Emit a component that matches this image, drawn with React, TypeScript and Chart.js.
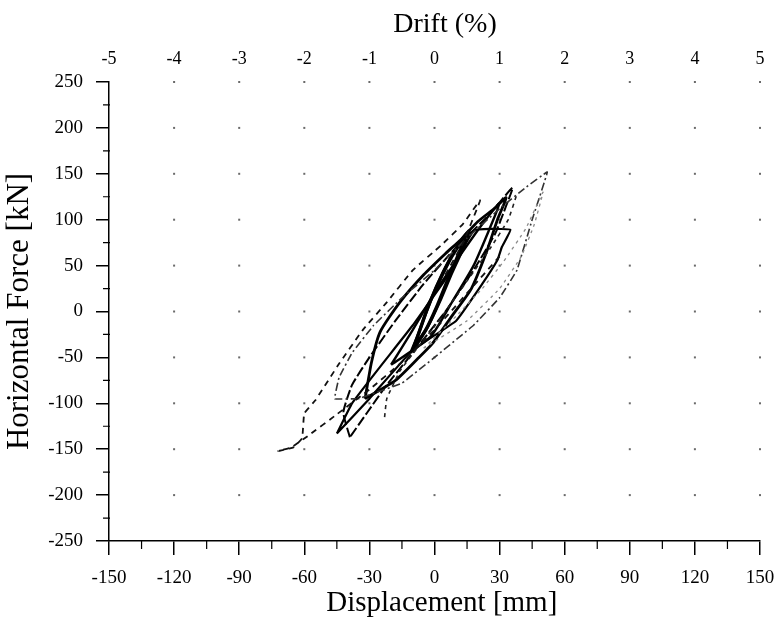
import React, { useEffect, useRef } from "react";
import { Chart, registerables } from "chart.js";

Chart.register(...registerables);

// ---- Data (displacement [mm], horizontal force [kN]) ----
const displacementTicks = [-150, -120, -90, -60, -30, 0, 30, 60, 90, 120, 150];
const forceTicks = [-250, -200, -150, -100, -50, 0, 50, 100, 150, 200, 250];
const driftTicks = [-5, -4, -3, -2, -1, 0, 1, 2, 3, 4, 5];

const cycle1: [number, number][] = [
  [-10, -42], [-7, -22], [-3, 5], [2, 32], [8, 60], [15, 85],
  [11, 62], [6, 34], [1, 5], [-4, -20], [-10, -42],
];
const cycle2: [number, number][] = [
  [-11, -45], [-8, -28], [-4, -2], [1, 28], [7, 57], [13, 80], [16, 88],
  [13, 68], [8, 42], [3, 14], [-3, -16], [-11, -45],
];
const cycle3: [number, number][] = [
  [-32, -95], [-29, -55], [-25, -22], [-16, 10], [-5, 40], [5, 63], [12, 78],
  [20, 98], [28, 113], [33, 124], [29, 100], [24, 65], [17, 25], [8, -5],
  [-1, -35], [-8, -52], [-18, -75], [-32, -95],
];
const cycle4: [number, number][] = [
  [-20, -58], [-10, -20], [0, 20], [10, 55], [22, 95], [30, 118],
  [25, 88], [18, 50], [8, 10], [-2, -28], [-20, -58],
];
const cycle5: [number, number][] = [
  [-45, -133], [-38, -100], [-25, -60], [-10, -15], [5, 35], [18, 88],
  [26, 90], [35, 89], [31, 70], [29, 56], [22, 30], [10, -10], [-10, -42],
  [-30, -95], [-45, -133],
];
const cycle6: [number, number][] = [
  [-35, -95], [-46, -95], [-44, -72], [-38, -45], [-28, -15], [-15, 15],
  [0, 45], [15, 80], [30, 112], [42, 135], [52, 152], [45, 100], [38, 45],
  [30, 15], [18, -15], [0, -50], [-15, -78], [-35, -95],
];
const cycle7: [number, number][] = [
  [30, 60], [15, 20], [0, -20], [-15, -55], [-30, -85], [-45, -112],
  [-58, -135], [-66, -148], [-72, -152], [-65, -148], [-61, -138],
  [-60, -111], [-55, -97], [-44, -57], [-33, -20], [-22, 10], [-10, 45],
  [3, 72], [13, 95], [21, 121], [13, 74], [5, 40],
];
const cycle8: [number, number][] = [
  [-39, -137], [-42, -110], [-38, -80], [-30, -50], [-18, -10], [-5, 30],
  [10, 70], [25, 105], [36, 135], [33, 115], [28, 85], [18, 45], [5, 0],
  [-10, -45], [-22, -80], [-31, -110], [-39, -137],
];
const cycle9: [number, number][] = [
  [-23, -115], [-22, -95], [-16, -65], [-8, -40], [2, -10], [14, 30],
  [26, 70], [34, 100], [38, 128],
];
const cycle10: [number, number][] = [
  [-5, -40], [10, -5], [22, 25], [32, 55], [42, 90], [50, 130],
  [46, 95], [40, 60], [30, 25], [15, -10], [-5, -40],
];

const toPts = (c: [number, number][]) => c.map(([x, y]) => ({ x, y }));

const FONT = '"Liberation Serif", "Times New Roman", serif';

export default function App() {
  const ref = useRef<HTMLCanvasElement | null>(null);

  useEffect(() => {
    if (!ref.current) return;

    const decor = {
      id: "decor",
      beforeDatasetsDraw(chart: any) {
        const { ctx, scales } = chart;
        const xs = scales.x, ys = scales.y;
        ctx.save();
        ctx.fillStyle = "#6a6a6a";
        for (const dx of displacementTicks) {
          if (dx === -150) continue;
          for (const fy of forceTicks) {
            if (fy === -250) continue;
            const px = xs.getPixelForValue(dx);
            const py = ys.getPixelForValue(fy);
            ctx.fillRect(px - 1, py - 1, 2, 2);
          }
        }
        ctx.restore();
      },
      afterDraw(chart: any) {
        const { ctx, scales } = chart;
        const xs = scales.x, ys = scales.y;
        ctx.save();
        ctx.strokeStyle = "#000";
        ctx.lineWidth = 1.2;
        ctx.beginPath();
        for (let i = 0; i < forceTicks.length - 1; i++) {
          const v = (forceTicks[i] + forceTicks[i + 1]) / 2;
          const py = ys.getPixelForValue(v);
          const px = xs.getPixelForValue(-150);
          ctx.moveTo(px - 6, py);
          ctx.lineTo(px + 1, py);
        }
        for (let i = 0; i < displacementTicks.length - 1; i++) {
          const v = (displacementTicks[i] + displacementTicks[i + 1]) / 2;
          const px = xs.getPixelForValue(v);
          const py = ys.getPixelForValue(-250);
          ctx.moveTo(px, py - 1);
          ctx.lineTo(px, py + 8);
        }
        ctx.stroke();
        ctx.restore();
      },
    };

    const ds = (
      data: [number, number][],
      width: number,
      color: string,
      dash: number[] = [],
      tension = 0.2
    ) => ({
      data: toPts(data),
      showLine: true,
      borderColor: color,
      borderWidth: width,
      borderDash: dash,
      pointRadius: 0,
      tension,
      fill: false,
      xAxisID: "x",
      yAxisID: "y",
    });

    const chart = new Chart(ref.current, {
      type: "scatter",
      data: {
        datasets: [
          ds(cycle10, 1.3, "#8a8a8a", [3, 4], 0.1),
          ds(cycle7, 1.8, "#111", [6, 5], 0.1),
          ds(cycle6, 1.6, "#333", [8, 3, 2, 3], 0.05),
          ds(cycle9, 1.6, "#222", [4, 4], 0.1),
          ds(cycle8, 2.0, "#000", [10, 3], 0.15),
          ds(cycle5, 2.2, "#000", [], 0.1),
          ds(cycle4, 2.4, "#000", [], 0.2),
          ds(cycle3, 2.8, "#000", [], 0.2),
          ds(cycle2, 3.0, "#000", [], 0.2),
          ds(cycle1, 3.4, "#000", [], 0.2),
        ],
      },
      options: {
        animation: false,
        responsive: false,
        maintainAspectRatio: false,
        layout: { padding: 0 },
        plugins: { legend: { display: false }, tooltip: { enabled: false } },
        scales: {
          x: {
            type: "linear",
            position: "bottom",
            min: -150,
            max: 150,
            afterBuildTicks: (s: any) => {
              s.ticks = displacementTicks.map((v) => ({ value: v }));
            },
            ticks: {
              color: "#000",
              font: { family: FONT, size: 19 },
              padding: 12,
              maxRotation: 0,
              autoSkip: false,
            },
            grid: {
              drawOnChartArea: false,
              drawTicks: true,
              tickLength: 14,
              color: "#000",
              lineWidth: 1.5,
            },
            border: { display: true, color: "#000", width: 1.5 },
            title: {
              display: true,
              text: "  Displacement [mm]",
              color: "#000",
              font: { family: FONT, size: 29 },
              padding: { top: 0, bottom: 2 },
            },
            afterFit: (s: any) => {
              s.height = 82;
              s.paddingLeft = 0;
              s.paddingRight = 18;
            },
          },
          x2: {
            type: "linear",
            position: "top",
            min: -5,
            max: 5,
            afterBuildTicks: (s: any) => {
              s.ticks = driftTicks.map((v) => ({ value: v }));
            },
            ticks: {
              color: "#000",
              font: { family: FONT, size: 18 },
              padding: 12,
              maxRotation: 0,
              autoSkip: false,
            },
            grid: { display: false, drawTicks: false },
            border: { display: false },
            title: {
              display: true,
              text: "   Drift (%)",
              color: "#000",
              font: { family: FONT, size: 28 },
              padding: { top: 8, bottom: 0 },
            },
            afterFit: (s: any) => {
              s.height = 82;
              s.paddingLeft = 0;
              s.paddingRight = 18;
            },
          },
          y: {
            type: "linear",
            position: "left",
            min: -250,
            max: 250,
            afterBuildTicks: (s: any) => {
              s.ticks = forceTicks.map((v) => ({ value: v }));
            },
            ticks: {
              color: "#000",
              font: { family: FONT, size: 19 },
              padding: 13,
              autoSkip: false,
            },
            grid: {
              drawOnChartArea: false,
              drawTicks: true,
              tickLength: 13,
              color: "#000",
              lineWidth: 1.5,
            },
            border: { display: true, color: "#000", width: 1.5 },
            title: {
              display: true,
              text: "Horizontal Force [kN]",
              color: "#000",
              font: { family: FONT, size: 31 },
              padding: { top: 1, bottom: 0 },
            },
            afterFit: (s: any) => {
              s.width = 109;
              s.paddingTop = 0;
              s.paddingBottom = 0;
            },
          },
        },
      },
      plugins: [decor],
    } as any);

    return () => chart.destroy();
  }, []);

  return (
    <div style={{ position: "absolute", left: 0, top: 0, width: 778, height: 623, background: "#fff" }}>
      <canvas ref={ref} width={778} height={623} style={{ display: "block" }} />
    </div>
  );
}
